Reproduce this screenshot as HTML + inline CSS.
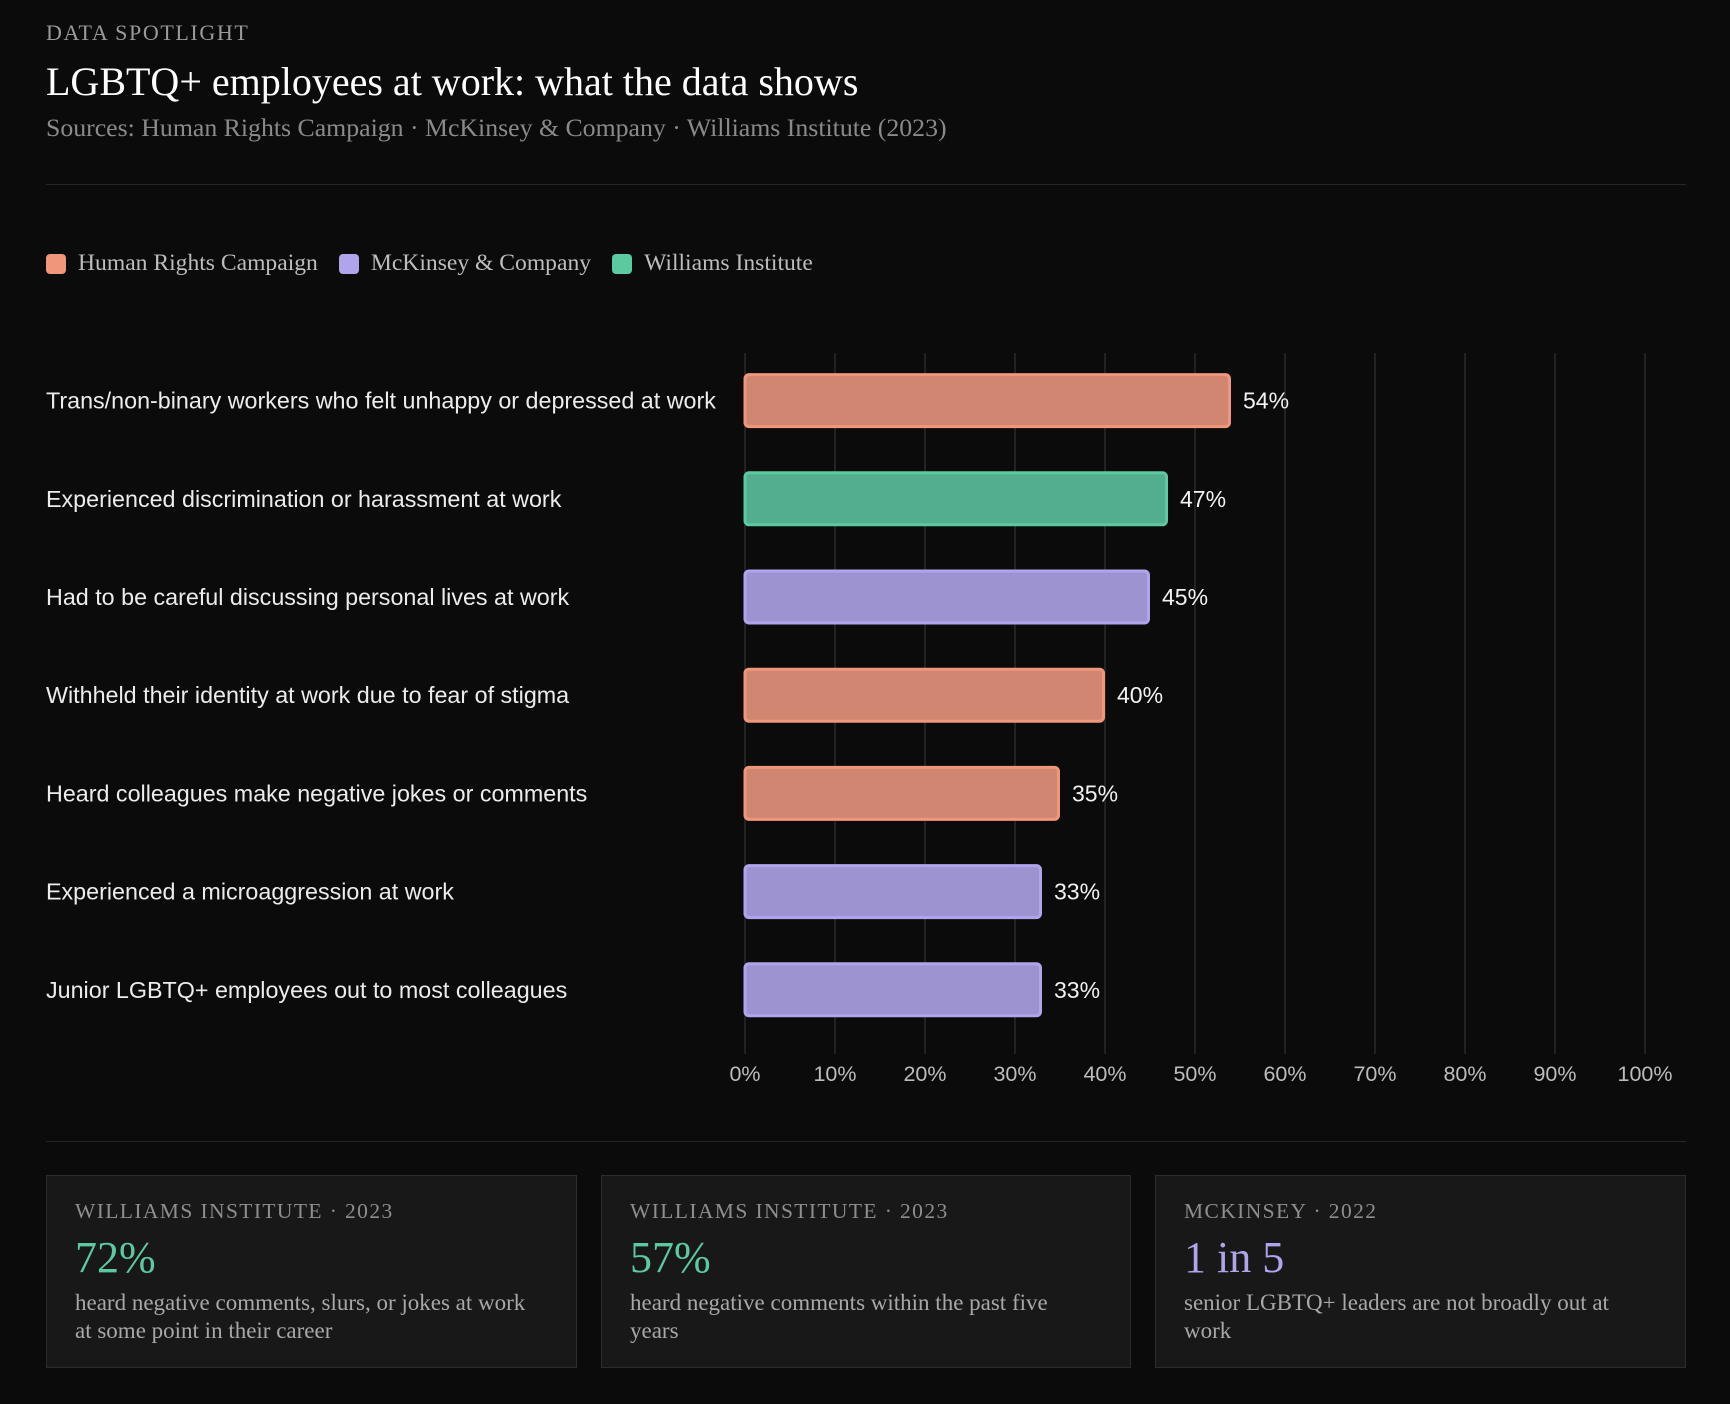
<!DOCTYPE html>
<html><head><meta charset="utf-8"><style>
html,body{margin:0;padding:0;background:#0b0b0b;}
body{width:1730px;height:1404px;position:relative;overflow:hidden;color:#eee;}
.serif{font-family:"Liberation Serif",serif;}
.sans{font-family:"Liberation Sans",sans-serif;}
.abs{position:absolute;white-space:nowrap;}
.card{position:absolute;top:1175px;height:193px;background:#181818;border:1px solid #2c2c2c;box-sizing:border-box;}
.card .k{position:absolute;left:28px;top:23px;font-size:21.5px;letter-spacing:1.4px;color:#8e8e8e;font-family:"Liberation Serif",serif;}
.card .v{position:absolute;left:28px;top:56px;font-size:44px;font-family:"Liberation Serif",serif;}
.card .d{position:absolute;left:28px;top:113px;width:452px;font-size:23px;line-height:28px;color:#a8a8a8;font-family:"Liberation Serif",serif;}
</style></head><body>
<div class="abs serif" style="left:46px;top:20px;font-size:22px;letter-spacing:1.6px;color:#9a9a9a;">DATA SPOTLIGHT</div>
<div class="abs serif" style="left:46px;top:58px;font-size:40px;color:#fff;">LGBTQ+ employees at work: what the data shows</div>
<div class="abs serif" style="left:46px;top:113px;font-size:25.8px;color:#8a8a8a;">Sources: Human Rights Campaign · McKinsey &amp; Company · Williams Institute (2023)</div>
<div class="abs" style="left:46px;top:184px;width:1640px;height:1px;background:#262626;"></div>

<div class="abs serif" style="left:46px;top:250px;font-size:23.6px;color:#bdbdbd;display:flex;align-items:center;">
 <span style="display:flex;align-items:center;margin-right:21px;"><i style="display:inline-block;width:20px;height:20px;border-radius:4px;background:#f0967a;margin-right:12px;"></i>Human Rights Campaign</span>
 <span style="display:flex;align-items:center;margin-right:21px;"><i style="display:inline-block;width:20px;height:20px;border-radius:4px;background:#b0a5ec;margin-right:12px;"></i>McKinsey &amp; Company</span>
 <span style="display:flex;align-items:center;"><i style="display:inline-block;width:20px;height:20px;border-radius:4px;background:#5cc9a0;margin-right:12px;"></i>Williams Institute</span>
</div>

<svg id="chart" width="1730" height="1120" style="position:absolute;left:0;top:0;"></svg>

<div class="abs" style="left:46px;top:1141px;width:1640px;height:1px;background:#262626;"></div>

<div class="card" style="left:46px;width:531px;"><div class="k">WILLIAMS INSTITUTE · 2023</div><div class="v" style="color:#5cc9a0;">72%</div><div class="d">heard negative comments, slurs, or jokes at work at some point in their career</div></div>
<div class="card" style="left:601px;width:530px;"><div class="k">WILLIAMS INSTITUTE · 2023</div><div class="v" style="color:#5cc9a0;">57%</div><div class="d">heard negative comments within the past five years</div></div>
<div class="card" style="left:1155px;width:531px;"><div class="k">MCKINSEY · 2022</div><div class="v" style="color:#b0a5ec;">1 in 5</div><div class="d">senior LGBTQ+ leaders are not broadly out at work</div></div>

<script>
const categories = ["Trans/non-binary workers who felt unhappy or depressed at work","Experienced discrimination or harassment at work","Had to be careful discussing personal lives at work","Withheld their identity at work due to fear of stigma","Heard colleagues make negative jokes or comments","Experienced a microaggression at work","Junior LGBTQ+ employees out to most colleagues"];
const values = [54,47,45,40,35,33,33];
const sources = ["hrc","williams","mckinsey","hrc","hrc","mckinsey","mckinsey"];
const ticks = [0,10,20,30,40,50,60,70,80,90,100];
const NS="http://www.w3.org/2000/svg";
const svg=document.getElementById('chart');
const X0=745,X1=1645,Y0=353,Y1=1054,rowTop=351.5,rowStep=98.2,barH=55;
const colors={hrc:{f:"#d08670",s:"#f0967a"},mckinsey:{f:"#9d93d0",s:"#b0a5ec"},williams:{f:"#52ae8e",s:"#5cc9a0"}};
function x(v){return X0+(X1-X0)*v/100;}
function yc(i){return rowTop+rowStep*i+rowStep/2;}
function mk(t,a){const e=document.createElementNS(NS,t);for(const k in a)e.setAttribute(k,a[k]);svg.appendChild(e);return e;}
ticks.forEach(t=>{
 const l=mk('line',{x1:x(t),x2:x(t),y1:Y0,y2:Y1,stroke:'#222','stroke-width':2});
 
 
 const tx=mk('text',{x:x(t),y:1081,'text-anchor':'middle',fill:'#bdbdbd','font-size':21.5,'font-family':'Liberation Sans, sans-serif'});
 tx.textContent=t+'%';
 
 
});
categories.forEach((c,i)=>{
 const cy=yc(i);
 const lb=mk('text',{x:46,y:cy+8,fill:'#ececec','font-size':23.3,'font-family':'Liberation Sans, sans-serif'});
 lb.textContent=c;
 
 
 const col=colors[sources[i]];
 const r=mk('rect',{x:X0,y:cy-barH/2+1.5,width:x(values[i])-X0-1.5,height:barH-3,rx:4,fill:col.f,stroke:col.s,'stroke-width':3});
 
 
 const v=mk('text',{x:x(values[i])+12,y:cy+8,fill:'#f2f2f2','font-size':23,'font-family':'Liberation Sans, sans-serif'});
 v.textContent=values[i]+'%';
 
 
});
</script>
</body></html>
